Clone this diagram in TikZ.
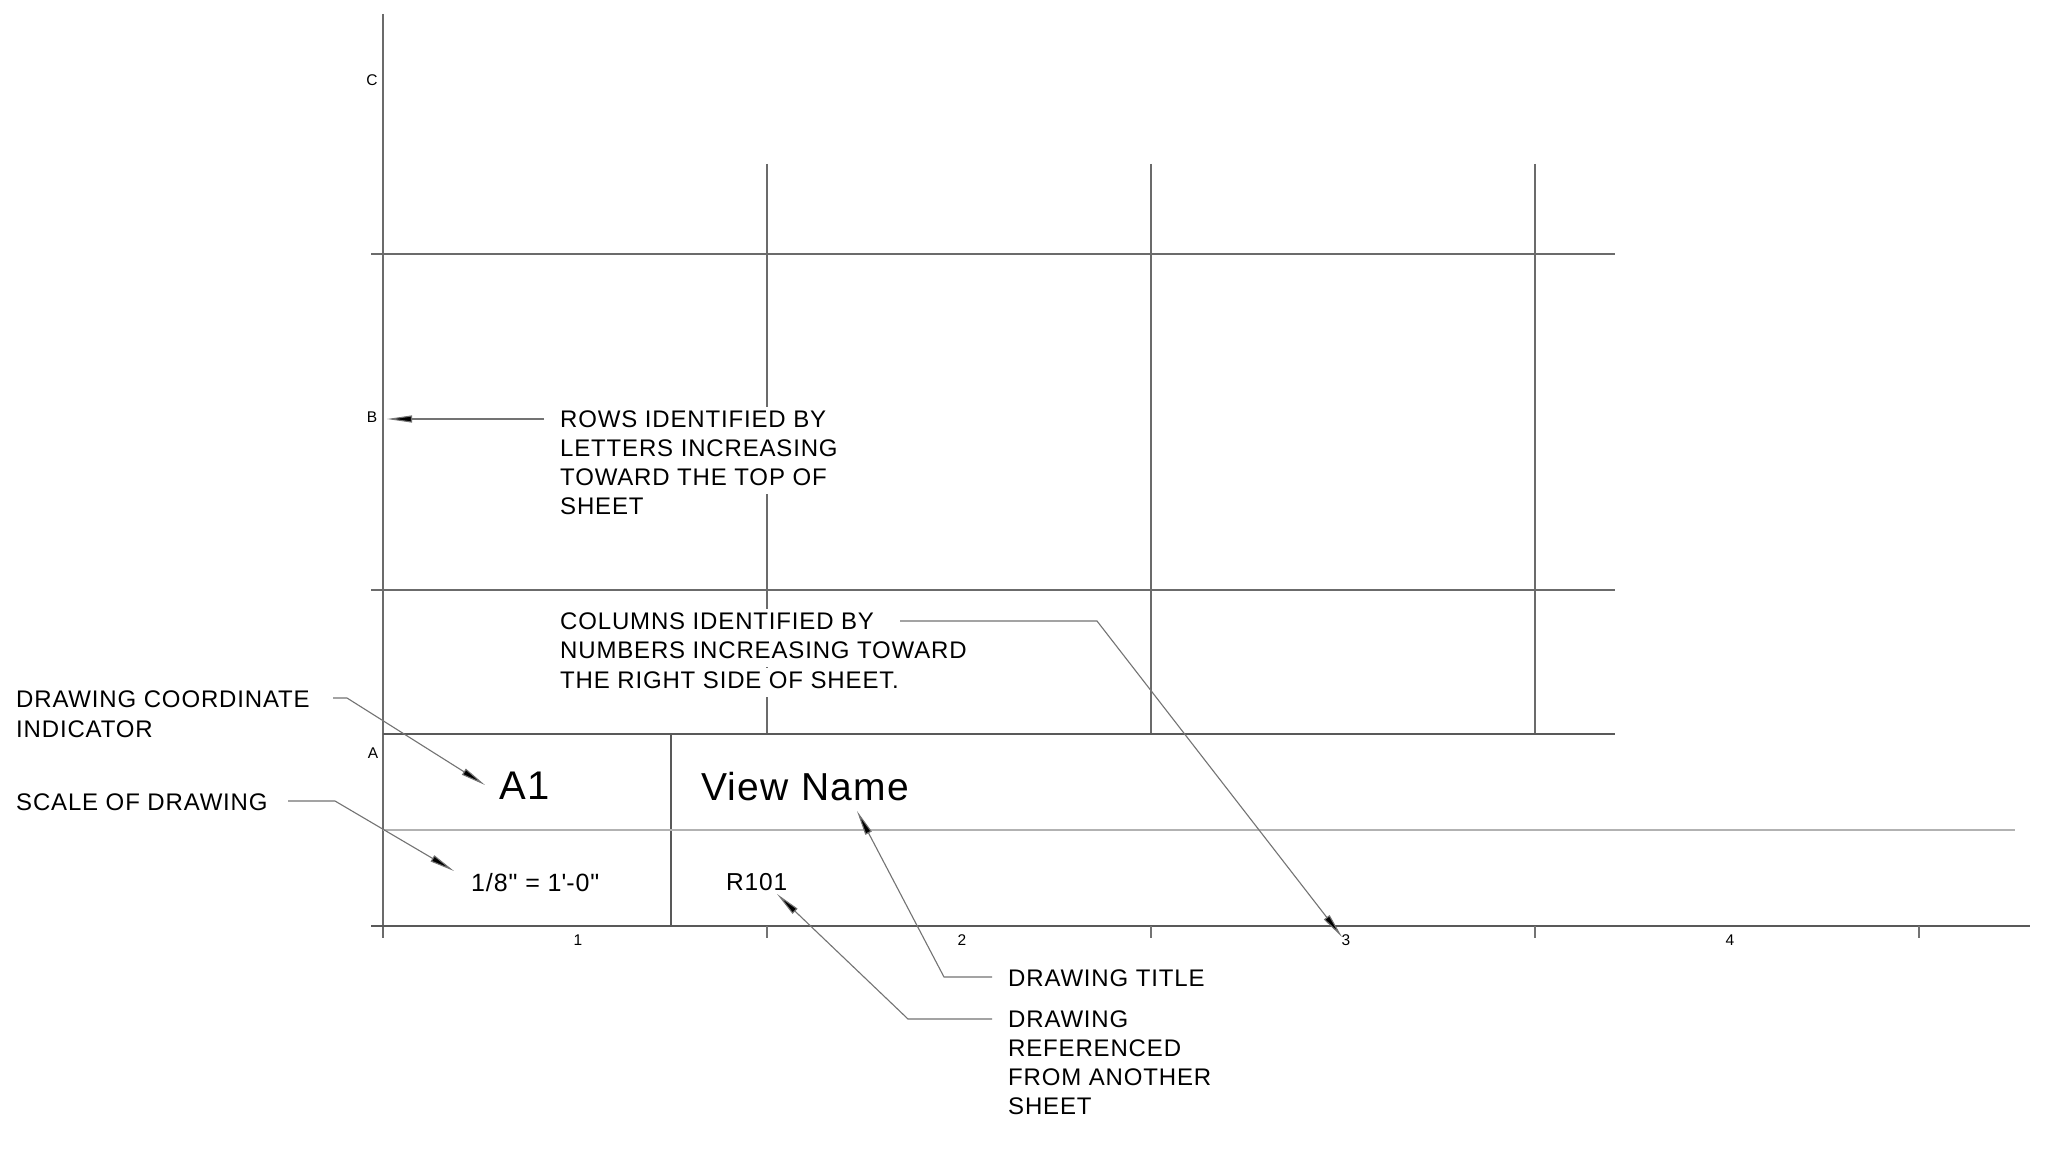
\documentclass[tikz,border=0pt]{standalone}
\usepackage{fontspec}
\usetikzlibrary{arrows.meta}
\newfontfamily\cadfont{Liberation Sans}[LetterSpace=3.5]
\tikzset{
  gridline/.style={line width=1.3pt, draw=black!58},
  boxline/.style={line width=2pt, draw=black!65},
  midline/.style={line width=2pt, draw=black!30},
  tickline/.style={line width=1.2pt, draw=black!55},
  leader/.style={line width=1.1pt, draw=black!55, -{Triangle[length=25pt,width=7pt,fill=black]}},
  lbl/.style={inner xsep=2pt, inner ysep=0pt, anchor=base west, fill=white, font=\cadfont\fontsize{24}{29}\selectfont},
  gridlbl/.style={inner sep=0pt, anchor=center, font=\cadfont\fontsize{15.5}{18}\selectfont},
}
\begin{document}
\begin{tikzpicture}[x=1pt,y=-1pt]
\useasboundingbox[fill=white] (0,0) rectangle (2057,1153);
% grid
\draw[gridline] (383,14) -- (383,938);
\draw[gridline] (371,254) -- (1615,254);
\draw[gridline] (371,590) -- (1615,590);
\foreach \xx in {767,1151,1535} {\draw[gridline] (\xx,164) -- (\xx,734);}
\draw[boxline] (383,734) -- (1615,734);
\draw[boxline] (671,734) -- (671,926);
\draw[midline] (383,830) -- (2015,830);
\draw[boxline] (371,926) -- (2030,926);
\foreach \xx in {767,1151,1535,1919} {\draw[tickline] (\xx,926) -- (\xx,938);}
% grid labels
\node[gridlbl] (rowC) at (372,80) {C};
\node[gridlbl] (rowB) at (372,417) {B};
\node[gridlbl] (rowA) at (373,753) {A};
\node[gridlbl] (col1) at (578,940) {1};
\node[gridlbl] (col2) at (962,940) {2};
\node[gridlbl] (col3) at (1346,940) {3};
\node[gridlbl] (col4) at (1730,940) {4};
% title block texts
\node[inner sep=0pt, anchor=base west, font=\cadfont\fontsize{40}{44}\selectfont] (aone) at (499,799) {A1};
\node[inner sep=0pt, anchor=base west, font=\cadfont\fontsize{39}{44}\selectfont] (viewname) at (701,800) {View Name};
\node[inner sep=0pt, anchor=base west, font=\cadfont\fontsize{25}{29}\selectfont] (scale) at (471,891) {1/8" = 1\textquotesingle-0"};
\node[inner sep=0pt, anchor=base west, font=\cadfont\fontsize{24.5}{29}\selectfont] (rref) at (726,890) {R101};
% annotation texts (one node per line, masking the grid behind)
\node[lbl] (rows1) at (558,427.5) {\strut ROWS IDENTIFIED BY};
\node[lbl] (rows2) at (558,456.5) {\strut LETTERS INCREASING};
\node[lbl] (rows3) at (558,485.5) {\strut TOWARD THE TOP OF};
\node[lbl] (rows4) at (558,514.5) {\strut SHEET};
\node[lbl] (cols1) at (558,629) {\strut COLUMNS IDENTIFIED BY};
\node[lbl] (cols2) at (558,658.5) {\strut NUMBERS INCREASING TOWARD};
\node[lbl] (cols3) at (558,688) {\strut THE RIGHT SIDE OF SHEET.};
\node[lbl] (coord1) at (14,707) {\strut DRAWING COORDINATE};
\node[lbl] (coord2) at (14,737) {\strut INDICATOR};
\node[lbl] (scl) at (14,810) {\strut SCALE OF DRAWING};
\node[lbl] (title) at (1006,986) {\strut DRAWING TITLE};
\node[lbl] (refd1) at (1006,1027.5) {\strut DRAWING};
\node[lbl] (refd2) at (1006,1056.5) {\strut REFERENCED};
\node[lbl] (refd3) at (1006,1085.5) {\strut FROM ANOTHER};
\node[lbl] (refd4) at (1006,1114.5) {\strut SHEET};
% leader points
\coordinate (rowsS) at (544,419);
\coordinate (rowsT) at (387,419);
\coordinate (colsS) at (900,621);
\coordinate (colsK) at (1097,621);
\coordinate (colsT) at (1342,937);
\coordinate (coordS) at (333,698);
\coordinate (coordK) at (347,698);
\coordinate (coordT) at (485,785);
\coordinate (sclS) at (288,801);
\coordinate (sclK) at (335,801);
\coordinate (sclT) at (454,871);
\coordinate (titleS) at (992,977);
\coordinate (titleK) at (944,977);
\coordinate (titleT) at (857,811);
\coordinate (refdS) at (992,1019);
\coordinate (refdK) at (908,1019);
\coordinate (refdT) at (777,894);
% leaders
\draw[leader] (rowsS) -- (rowsT);
\draw[leader] (colsS) -- (colsK) -- (colsT);
\draw[leader] (coordS) -- (coordK) -- (coordT);
\draw[leader] (sclS) -- (sclK) -- (sclT);
\draw[leader] (titleS) -- (titleK) -- (titleT);
\draw[leader] (refdS) -- (refdK) -- (refdT);
\end{tikzpicture}
\end{document}
